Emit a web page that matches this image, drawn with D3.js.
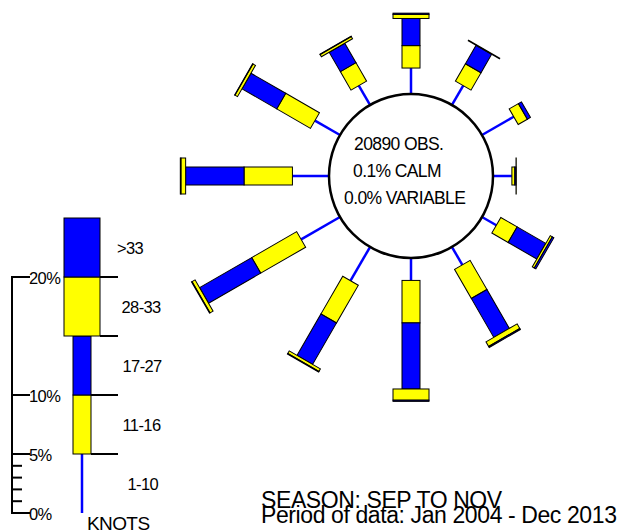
<!DOCTYPE html>
<html>
<head>
<meta charset="utf-8">
<script src="https://cdn.jsdelivr.net/npm/d3@7"></script>
<style>
  html, body { margin: 0; padding: 0; background: #fff; }
  svg text { font-family: "Liberation Sans", Arial, sans-serif; fill: #000; }
</style>
</head>
<body>
<svg id="rose" width="638" height="532"></svg>
<script>
// Wind directions (degrees, clockwise from north)
const directions = [0, 30, 60, 90, 120, 150, 180, 210, 240, 270, 300, 330];
// Speed classes in knots
const speedBins = ["1-10", "11-16", "17-27", "28-33", ">33"];
// Percent frequency per direction for each speed class
const pct1to10   = [2.2, 1.9, 3.1, 1.6, 1.4, 1.75, 1.9, 3.3, 3.8, 3.1, 2.45, 1.9];
const pct11to16  = [1.9, 1.7, 0.9, 0.25, 1.6, 2.85, 3.6, 3.7, 4.4, 4.1, 3.3, 1.8];
const pct17to27  = [2.3, 1.8, 0.3, 0.1, 2.8, 3.8, 5.6, 4.05, 5.1, 4.95, 3.4, 1.9];
const pct28to33  = [0.35, 0.05, 0, 0.02, 0.2, 0.45, 0.95, 0.25, 0.3, 0.4, 0.25, 0.22];
const pctOver33  = [0.1, 0, 0, 0, 0.15, 0.1, 0.1, 0.05, 0.05, 0.05, 0.03, 0.02];
// Legend scale
const legendBand = [5, 5, 5, 5, 5];
const majorTicks = [0, 5, 10, 20];
const majorTickLabels = ["0%", "5%", "10%", "20%"];
const minorTicks = [1, 2, 3, 4];
// Centre summary and titles
const summaryLines = ["20890 OBS.", "0.1% CALM", "0.0% VARIABLE"];
const titleLines = ["SEASON: SEP TO NOV", "Period of data: Jan 2004 - Dec 2013"];

const BLUE = "#0000ff", YELLOW = "#ffff00";
const binColor = [BLUE, YELLOW, BLUE, YELLOW, BLUE];
const binWidth = [0, 18, 18, 36, 36];

const svg = d3.select("#rose");
const cx = 411, cy = 176, R0 = 82;

// percent -> pixel length, shared by the rose and the legend
const r = d3.scaleLinear().domain([0, 20]).range([0, 236]);

const series = [pct1to10, pct11to16, pct17to27, pct28to33, pctOver33];

// ----- Rose arms -----
const arms = svg.append("g").selectAll("g.arm")
  .data(directions.map((d, i) => {
    let cum = 0;
    const segs = series.map((s, k) => {
      const seg = { k, from: cum, to: cum + s[i] };
      cum += s[i];
      return seg;
    });
    return { dir: d, segs };
  }))
  .join("g")
  .attr("class", "arm")
  .attr("transform", d => `translate(${cx},${cy}) rotate(${d.dir})`);

// light winds as a thin blue ray
arms.append("line")
  .attr("x1", 0).attr("x2", 0)
  .attr("y1", -R0)
  .attr("y2", d => -(R0 + r(d.segs[0].to)))
  .attr("stroke", BLUE).attr("stroke-width", 2.5);

// stronger winds as stacked boxes
arms.selectAll("rect")
  .data(d => d.segs.filter(s => s.k > 0 && s.to > s.from))
  .join("rect")
  .attr("x", s => -binWidth[s.k] / 2)
  .attr("width", s => binWidth[s.k])
  .attr("y", s => -(R0 + r(s.to)))
  .attr("height", s => r(s.to) - r(s.from))
  .attr("fill", s => binColor[s.k])
  .attr("stroke", "#000").attr("stroke-width", 1);

// centre circle
svg.append("circle")
  .attr("cx", cx).attr("cy", cy).attr("r", R0)
  .attr("fill", "#fff").attr("stroke", "#000").attr("stroke-width", 2.5);

const summaryPos = [[354, 149.5], [353, 176.5], [344, 203.5]];
svg.append("g").selectAll("text")
  .data(summaryLines)
  .join("text")
  .attr("x", (d, i) => summaryPos[i][0])
  .attr("y", (d, i) => summaryPos[i][1])
  .attr("font-size", 17.5)
  .attr("letter-spacing", -0.6)
  .text(d => d);

// ----- Legend -----
const lg = svg.append("g");
const baseY = 513, axisX = 12, barX = 82;
const ly = v => baseY - r(v);

lg.append("line")
  .attr("x1", axisX).attr("x2", axisX)
  .attr("y1", ly(20)).attr("y2", ly(0))
  .attr("stroke", "#000").attr("stroke-width", 2);
lg.selectAll("line.major").data(majorTicks).join("line")
  .attr("class", "major")
  .attr("x1", axisX - 1).attr("x2", 30)
  .attr("y1", d => ly(d)).attr("y2", d => ly(d))
  .attr("stroke", "#000").attr("stroke-width", 2);
lg.selectAll("line.minor").data(minorTicks).join("line")
  .attr("class", "minor")
  .attr("x1", axisX).attr("x2", 22)
  .attr("y1", d => ly(d)).attr("y2", d => ly(d))
  .attr("stroke", "#000").attr("stroke-width", 2);
lg.selectAll("text.tick").data(majorTicks).join("text")
  .attr("class", "tick")
  .attr("x", 29)
  .attr("y", d => ly(d) + 6.5)
  .attr("font-size", 16.5)
  .attr("letter-spacing", -0.6)
  .text((d, i) => majorTickLabels[i]);

// legend key built from the same speed classes
let acc = 0;
const keys = legendBand.map((v, k) => {
  const o = { k, from: acc, to: acc + v };
  acc += v;
  return o;
});
lg.append("line")
  .attr("x1", barX).attr("x2", barX)
  .attr("y1", ly(keys[0].from)).attr("y2", ly(keys[0].to))
  .attr("stroke", BLUE).attr("stroke-width", 2.5);
lg.selectAll("rect").data(keys.slice(1)).join("rect")
  .attr("x", d => barX - binWidth[d.k] / 2)
  .attr("width", d => binWidth[d.k])
  .attr("y", d => ly(d.to))
  .attr("height", d => r(d.to) - r(d.from))
  .attr("fill", d => binColor[d.k])
  .attr("stroke", "#000").attr("stroke-width", 1);
lg.selectAll("line.sep").data(keys.slice(0, 4)).join("line")
  .attr("class", "sep")
  .attr("x1", d => barX + Math.max(binWidth[d.k], binWidth[d.k + 1]) / 2)
  .attr("x2", 118)
  .attr("y1", d => ly(d.to)).attr("y2", d => ly(d.to))
  .attr("stroke", "#000").attr("stroke-width", 2);

const keyLabelX = [127.5, 122.5, 122.5, 121.5, 117];
lg.selectAll("text.key").data(keys).join("text")
  .attr("class", "key")
  .attr("x", d => keyLabelX[d.k])
  .attr("y", d => (ly(d.from) + ly(d.to)) / 2 + 6)
  .attr("font-size", 16.5)
  .attr("letter-spacing", -0.6)
  .text(d => speedBins[d.k]);

lg.append("text")
  .attr("x", 87).attr("y", 529.5)
  .attr("font-size", 19)
  .attr("letter-spacing", -0.6)
  .text("KNOTS");

// ----- Titles (two tightly stacked lines) -----
svg.append("g").selectAll("text")
  .data(titleLines)
  .join("text")
  .attr("x", 261)
  .attr("y", (d, i) => 508 + i * 14.5)
  .attr("font-size", 23)
  .attr("letter-spacing", -0.4)
  .text(d => d);
</script>
</body>
</html>
